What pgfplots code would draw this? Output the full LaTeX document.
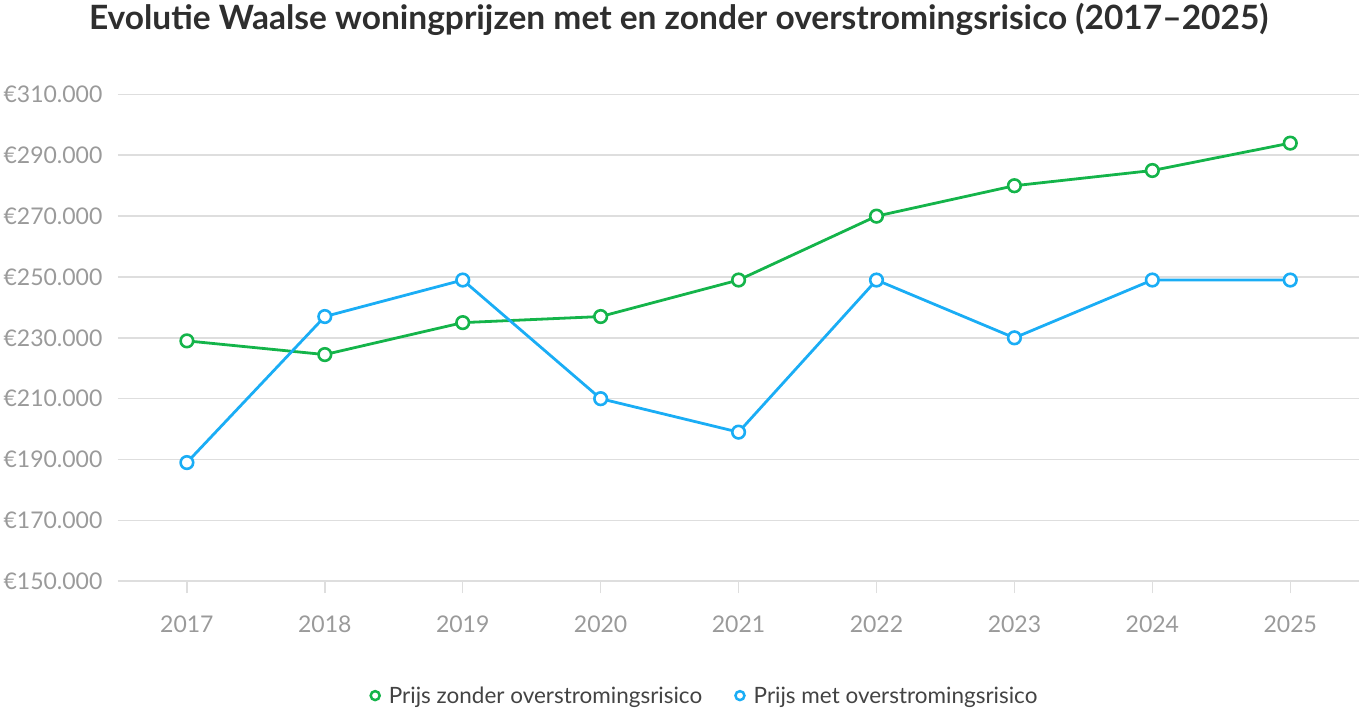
\documentclass[border=0pt]{standalone}
\usepackage{fontspec}
\setmainfont{Lato}
\usepackage{pgfplots}
\pgfplotsset{compat=1.18}
\definecolor{cgreen}{HTML}{14B44A}
\definecolor{cblue}{HTML}{1AADF5}
\definecolor{cgrid}{HTML}{DEDEDE}
\definecolor{ctick}{HTML}{9A9A9A}
\definecolor{ctitle}{HTML}{2E2E2E}
\begin{document}
\begin{tikzpicture}[x=1pt,y=1pt]
\begin{axis}[
  scale only axis,
  width=1242pt, height=487pt,
  xmin=-0.5, xmax=8.5,
  ymin=150000, ymax=310000,
  scaled y ticks=false,
  xtick={0,...,8},
  xticklabels={2017,2018,2019,2020,2021,2022,2023,2024,2025},
  ytick={150000,170000,190000,210000,230000,250000,270000,290000,310000},
  yticklabels={€150.000,€170.000,€190.000,€210.000,€230.000,€250.000,€270.000,€290.000,€310.000},
  axis line style={draw=none},
  ymajorgrids, grid style={cgrid, line width=1.6pt},
  tick label style={font=\fontsize{23}{27}\selectfont, text=ctick},
  ytick style={draw=none},
  xtick style={draw=cgrid, line width=1.4pt},
  xtick pos=bottom,
  xtick align=outside,
  major tick length=12pt,
  xticklabel style={yshift=-19pt},
  yticklabel style={xshift=-12pt},
  clip=false,
  legend style={at={(0.4725,-0.235)}, anchor=center, draw=none, fill=none,
    font=\fontsize{22.5}{26}\selectfont, text=ctitle!90,
    /tikz/every odd column/.append style={column sep=6pt},
    /tikz/every even column/.append style={column sep=30pt}},
  legend columns=2,
  legend cell align=left,
  legend image code/.code={\draw[#1, line width=2.5pt, fill=white] (4pt,0pt) circle (4.5pt);},
]
\addplot[cgreen, line width=2.8pt, mark=*, mark size=6.3pt, mark options={fill=white, line width=2.6pt}]
coordinates {(0,229000) (1,224500) (2,235000) (3,237000) (4,249000) (5,270000) (6,280000) (7,285000) (8,294000)};
\addlegendentry{Prijs zonder overstromingsrisico}
\addplot[cblue, line width=2.8pt, mark=*, mark size=6.3pt, mark options={fill=white, line width=2.6pt}]
coordinates {(0,189000) (1,237000) (2,249000) (3,210000) (4,199000) (5,249000) (6,230000) (7,249000) (8,249000)};
\addlegendentry{Prijs met overstromingsrisico}
\end{axis}
\node[font=\bfseries\fontsize{33.5}{38}\selectfont, text=ctitle] at (561pt,562pt) {Evolutie Waalse woningprijzen met en zonder overstromingsrisico (2017–2025)};
\path[use as bounding box] (-118pt,-128pt) rectangle (1242pt,580pt);
\end{tikzpicture}
\end{document}
